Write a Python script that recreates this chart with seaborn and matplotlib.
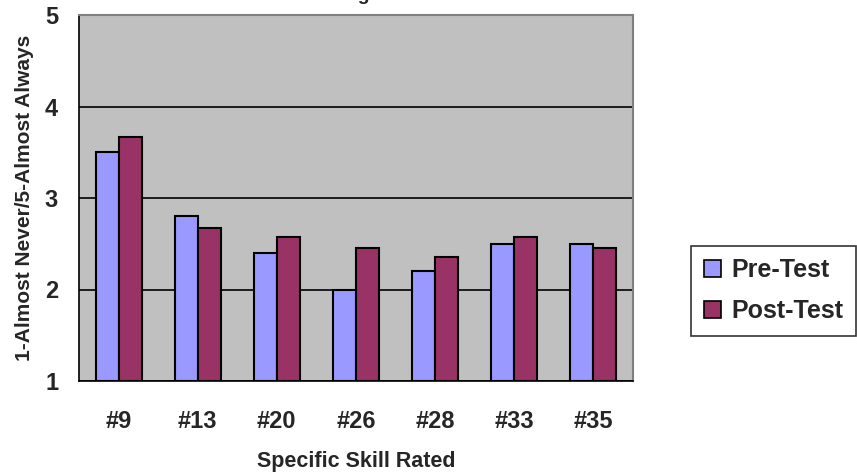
import pandas as pd
import matplotlib
matplotlib.use("Agg")
import matplotlib.pyplot as plt
from matplotlib.patches import Patch
import seaborn as sns

# skills rated, pre and post means
skills = ["#9", "#13", "#20", "#26", "#28", "#33", "#35"]
pre_test = [3.5, 2.8, 2.4, 2.0, 2.2, 2.5, 2.5]
post_test = [3.67, 2.67, 2.57, 2.45, 2.35, 2.57, 2.45]

df = pd.DataFrame({
    "skill": skills * 2,
    "score": pre_test + post_test,
    "test": ["Pre-Test"] * len(skills) + ["Post-Test"] * len(skills),
})

sns.set_style("white")
plt.rcParams["font.family"] = ["Liberation Sans", "DejaVu Sans"]
plt.rcParams["font.weight"] = "bold"

fig = plt.figure(figsize=(8.57, 4.75), dpi=100)
ax = fig.add_axes([79 / 857, 94 / 475, 554 / 857, 366 / 475])
ax.set_facecolor("#C0C0C0")

sns.barplot(data=df, x="skill", y="score", hue="test", order=skills,
            hue_order=["Pre-Test", "Post-Test"],
            palette={"Pre-Test": "#9999FF", "Post-Test": "#993366"},
            saturation=1, width=0.58, edgecolor="black", linewidth=1.5,
            ax=ax, legend=False)

# bars start at the axis floor (1), not zero
for bar in ax.patches:
    h = bar.get_height()
    bar.set_y(1)
    bar.set_height(h - 1)

ax.set_ylim(1, 5)
ax.set_xlim(-0.5, len(skills) - 0.5)
ax.set_yticks([1, 2, 3, 4, 5])
ax.yaxis.grid(True, color="black", linewidth=1.2)
ax.set_axisbelow(True)

# Excel style ticks between categories
ax.set_xticks(range(len(skills)))
ax.set_xticklabels(skills, fontsize=17, fontweight="bold")
ax.set_xticks([i - 0.5 for i in range(len(skills) + 1)], minor=True)
ax.tick_params(axis="x", which="major", length=0, pad=21)
ax.tick_params(axis="x", which="minor", length=6, width=1.2, color="black", direction="out")
ax.tick_params(axis="y", length=6, width=1.2, color="black", direction="out", labelsize=17, pad=9)
for t in ax.get_yticklabels():
    t.set_fontweight("bold")

for side in ["left", "bottom"]:
    ax.spines[side].set_color("black")
    ax.spines[side].set_linewidth(1.2)
for side in ["top", "right"]:
    ax.spines[side].set_visible(True)
    ax.spines[side].set_color("#808080")
    ax.spines[side].set_linewidth(1.5)

ax.set_xlabel("Specific Skill Rated", fontsize=15.5, fontweight="bold", labelpad=13)
ax.set_ylabel("1-Almost Never/5-Almost Always", fontsize=15, fontweight="bold", labelpad=8)

# title is clipped off the top of the original image
fig.text(370 / 857, 1.0, "Rating", ha="right", va="baseline", fontsize=14, fontweight="bold")

handles = [Patch(facecolor="#9999FF", edgecolor="black", linewidth=1.2),
           Patch(facecolor="#993366", edgecolor="black", linewidth=1.2)]
leg = fig.legend(handles, ["Pre-Test", "Post-Test"], loc="center left",
                 bbox_to_anchor=(691 / 857, 184.5 / 475), fontsize=18,
                 frameon=True, fancybox=False, edgecolor="black",
                 handlelength=0.68, handleheight=0.68, handletextpad=0.42,
                 borderpad=0.5, labelspacing=0.68, borderaxespad=0)
leg.get_frame().set_linewidth(1.2)
for t in leg.get_texts():
    t.set_fontweight("bold")

fig.savefig("out.png", dpi=100)
